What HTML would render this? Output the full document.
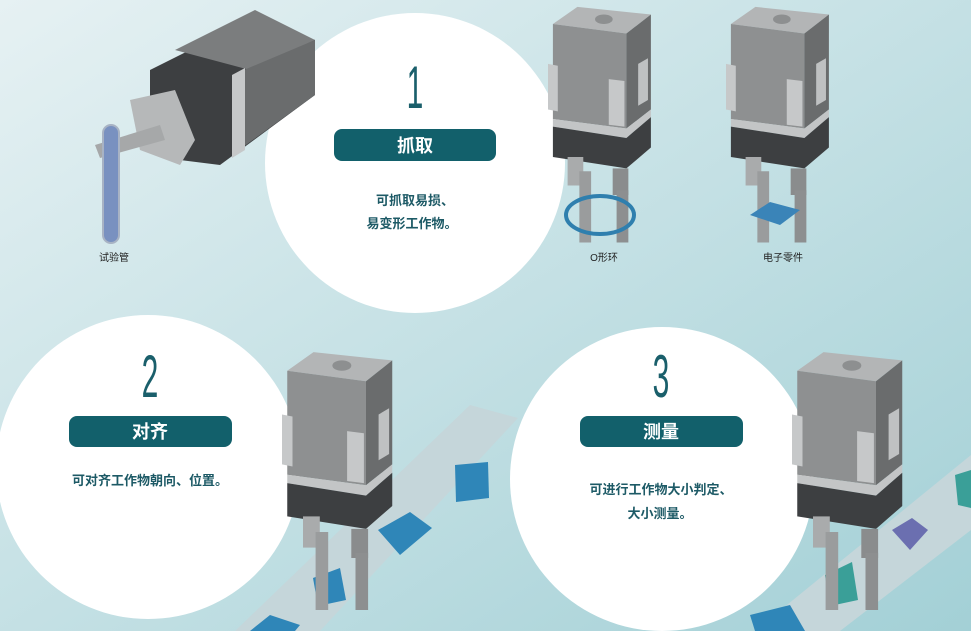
<!DOCTYPE html>
<html><head><meta charset="utf-8"><style>
html,body{margin:0;padding:0}
body{width:971px;height:631px;overflow:hidden;font-family:"Liberation Sans","Noto Sans CJK SC",sans-serif}
</style></head><body>
<svg width="971" height="631" viewBox="0 0 971 631" xmlns="http://www.w3.org/2000/svg">
<defs>
<linearGradient id="bg" x1="0" y1="0" x2="1" y2="1">
<stop offset="0" stop-color="#e6f1f3"/><stop offset="1" stop-color="#a3d0d6"/>
</linearGradient>
<g id="grip">
<polygon points="5,20 30,2 105,10 80,30" fill="#b3b5b6"/>
<ellipse cx="57" cy="15" rx="9" ry="5" fill="#8d8f90"/>
<polygon points="5,20 80,30 80,130 5,120" fill="#8e9091"/>
<polygon points="80,30 105,10 105,110 80,130" fill="#6a6c6d"/>
<polygon points="0,62 10,64 10,112 0,110" fill="#c6c8c9"/>
<polygon points="62,78 78,80 78,128 62,126" fill="#c6c8c9"/>
<polygon points="92,62 102,56 102,100 92,106" fill="#bfc1c2"/>
<polygon points="5,120 80,130 105,110 105,118 80,140 5,128" fill="#c3c5c6"/>
<polygon points="5,128 80,140 105,118 105,150 80,172 5,160" fill="#3d3f41"/>
<rect x="20" y="160" width="16" height="30" fill="#a9abac"/>
<rect x="32" y="175" width="12" height="75" fill="#9a9c9d"/>
<rect x="66" y="172" width="16" height="28" fill="#8a8c8d"/>
<rect x="70" y="195" width="12" height="55" fill="#8d8f90"/>
</g>
</defs>
<rect width="971" height="631" fill="url(#bg)"/>
<polygon points="235,631 470,405 518,418 320,631" fill="#c5d6da"/>
<polygon points="755,631 971,455 971,530 840,631" fill="#c5d6da"/>
<circle cx="415" cy="163" r="150" fill="#fff"/>
<circle cx="148" cy="467" r="152" fill="#fff"/>
<circle cx="662" cy="479" r="152" fill="#fff"/>
<polygon points="455,465 488,462 489,498 456,502" fill="#2f86b8"/>
<polygon points="378,530 410,512 432,528 400,555" fill="#2f86b8"/>
<polygon points="313,578 340,568 346,600 318,606" fill="#2f86b8"/>
<polygon points="250,631 270,615 300,625 295,631" fill="#2f86b8"/>
<polygon points="892,530 912,518 928,530 910,550" fill="#6b6fb0"/>
<polygon points="825,575 852,562 858,600 830,606" fill="#3a9f98"/>
<polygon points="955,475 971,470 971,508 958,505" fill="#3a9f98"/>
<polygon points="750,615 790,605 805,631 755,631" fill="#2f86b8"/>
<use href="#grip" transform="translate(548,5) scale(0.98,0.95)"/>
<use href="#grip" transform="translate(726,5) scale(0.98,0.95)"/>
<use href="#grip" transform="translate(282,350) scale(1.05,1.04)"/>
<use href="#grip" transform="translate(792,350) scale(1.05,1.04)"/>
<ellipse cx="600" cy="215" rx="34" ry="19" fill="none" stroke="#2f7fae" stroke-width="4"/>
<polygon points="750,215 770,202 800,210 780,225" fill="#3a84b8"/>
<polygon points="150,70 250,20 315,40 315,95 220,165 180,160 150,120" fill="#3d3f41"/>
<polygon points="175,50 255,10 315,40 250,70" fill="#7b7d7e"/>
<polygon points="232,75 315,40 315,95 232,155" fill="#6a6c6d"/>
<polygon points="232,75 245,68 245,150 232,158" fill="#c6c8c9"/>
<polygon points="130,100 175,90 195,140 180,165 140,150" fill="#b6b8b9"/>
<polygon points="95,145 160,125 165,140 100,158" fill="#a6a8a9"/>
<rect x="103" y="125" width="16" height="118" rx="8" fill="#7991c0" stroke="#a8b3c4" stroke-width="2"/>
<g fill="#1a5f6b" font-family="'Liberation Sans',sans-serif" text-anchor="middle" font-size="60">
<text transform="translate(415,108) scale(0.5,1)">1</text>
<text transform="translate(150,397) scale(0.5,1)">2</text>
<text transform="translate(661,397) scale(0.5,1)">3</text>
</g>
<rect x="334" y="129" width="162" height="32" rx="8" fill="#12606b"/>
<rect x="69" y="416" width="163" height="31" rx="8" fill="#12606b"/>
<rect x="580" y="416" width="163" height="31" rx="8" fill="#12606b"/>
<g fill="#fff" font-size="18" font-weight="bold" text-anchor="middle" font-family="'Liberation Sans','Noto Sans CJK SC',sans-serif">
<text x="415" y="152">抓取</text>
<text x="150" y="438">对齐</text>
<text x="661" y="438">测量</text>
</g>
<g fill="#1d5a66" font-size="13" font-weight="bold" text-anchor="middle" font-family="'Liberation Sans','Noto Sans CJK SC',sans-serif">
<text x="415" y="205">可抓取易损、</text>
<text x="412" y="228">易变形工作物。</text>
<text x="150" y="485">可对齐工作物朝向、位置。</text>
<text x="661" y="494">可进行工作物大小判定、</text>
<text x="660" y="518">大小测量。</text>
</g>
<g fill="#222" font-size="10" text-anchor="middle" font-family="'Liberation Sans','Noto Sans CJK SC',sans-serif">
<text x="114" y="261">试验管</text>
<text x="604" y="261">O形环</text>
<text x="783" y="261">电子零件</text>
</g>
</svg>
</body></html>
